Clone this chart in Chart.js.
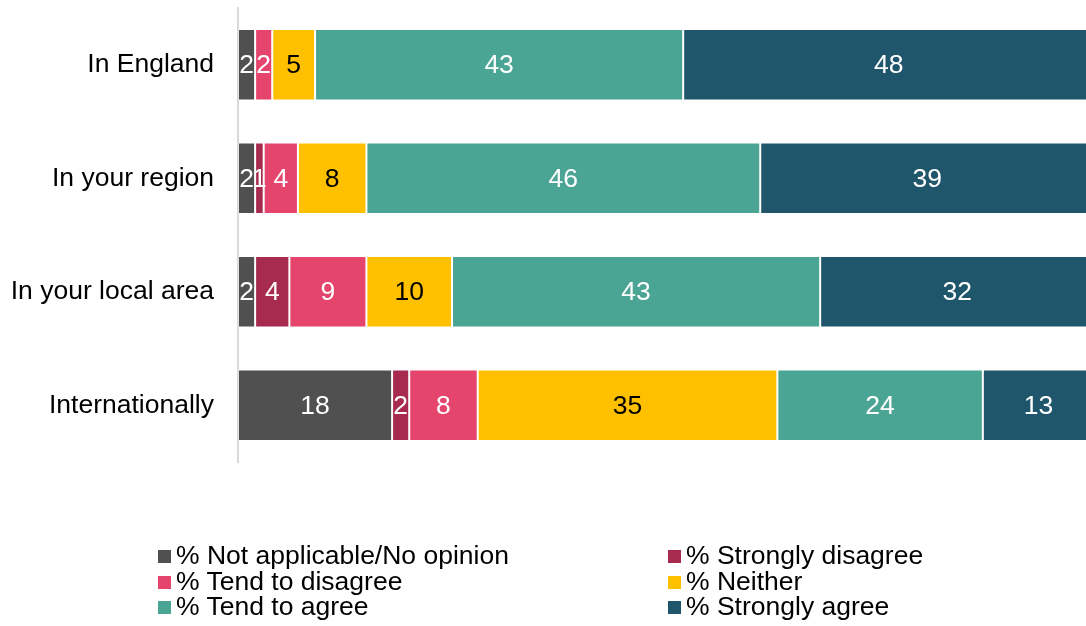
<!DOCTYPE html>
<html>
<head>
<meta charset="utf-8">
<script src="https://cdn.jsdelivr.net/npm/chart.js@4/dist/chart.umd.min.js"></script>
<style>
  html, body { margin: 0; padding: 0; background: #fff; }
  #wrap { position: relative; width: 1086px; height: 626px; }
  #legend {
    position: absolute; left: 158px; top: 543px; width: 928px;
    display: grid; grid-template-columns: 510px 418px;
    font-family: "Liberation Sans", Arial, sans-serif; font-size: 26.5px; line-height: 25.5px; color: #000;
  }
  .item { display: flex; align-items: center; white-space: nowrap; }
  .box { width: 13px; height: 13px; margin-right: 5px; margin-top: 2px; }
</style>
</head>
<body>
<div id="wrap">
  <canvas id="chart" width="1086" height="626"></canvas>
  <div id="legend"></div>
</div>
<script>
const categories = ["In England", "In your region", "In your local area", "Internationally"];
const seriesNames = ["% Not applicable/No opinion", "% Strongly disagree", "% Tend to disagree", "% Neither", "% Tend to agree", "% Strongly agree"];
const notApplicable = [2, 2, 2, 18];
const stronglyDisagree = [0, 1, 4, 2];
const tendDisagree = [2, 4, 9, 8];
const neither = [5, 8, 10, 35];
const tendAgree = [43, 46, 43, 24];
const stronglyAgree = [48, 39, 32, 13];

const colors = ["#505050", "#A62B4E", "#E5446D", "#FFC000", "#4BA594", "#1F566B"];
const labelColors = ["#fff", "#fff", "#fff", "#000", "#fff", "#fff"];
const allValues = [notApplicable, stronglyDisagree, tendDisagree, neither, tendAgree, stronglyAgree];

const FONT = '"Liberation Sans", Arial, sans-serif';

// draw the numbers inside each segment
const segmentLabels = {
  id: 'segmentLabels',
  afterDatasetsDraw(chart) {
    const ctx = chart.ctx;
    ctx.save();
    ctx.font = '26.5px ' + FONT;
    ctx.textAlign = 'center';
    ctx.textBaseline = 'middle';
    chart.data.datasets.forEach((ds, i) => {
      const meta = chart.getDatasetMeta(i);
      meta.data.forEach((bar, j) => {
        const v = ds.data[j];
        if (!v) return;
        const left = Math.min(bar.x, bar.base);
        const right = Math.max(bar.x, bar.base);
        ctx.fillStyle = labelColors[i];
        ctx.fillText(String(v), (left + right) / 2, bar.y + 1);
      });
    });
    ctx.restore();
  }
};

const chart = new Chart(document.getElementById('chart').getContext('2d'), {
  type: 'bar',
  data: {
    labels: categories,
    datasets: seriesNames.map((name, i) => ({
      label: name,
      data: allValues[i],
      backgroundColor: colors[i],
      borderColor: 'rgba(255,255,255,0.25)',
      borderWidth: 1,
      borderSkipped: false,
      categoryPercentage: 1,
      barPercentage: 0.63
    }))
  },
  options: {
    indexAxis: 'y',
    responsive: false,
    animation: false,
    layout: { padding: { top: 8, bottom: 164, right: 0 } },
    plugins: {
      legend: { display: false },
      tooltip: { enabled: false }
    },
    scales: {
      x: {
        stacked: true,
        display: false,
        min: 0,
        max: 99.05   // the original picture is cropped just short of 100
      },
      y: {
        stacked: true,
        afterFit(scale) {
          scale.width = 238;
          scale.paddingTop = 0;
          scale.paddingBottom = 0;
        },
        grid: { display: false, drawTicks: false },
        border: { display: true, color: '#d9d9d9', width: 2 },
        ticks: {
          color: '#000',
          padding: 24,
          font: { family: FONT, size: 26.5 }
        }
      }
    }
  },
  plugins: [segmentLabels]
});

// two-column legend like the original
const legend = document.getElementById('legend');
seriesNames.forEach((name, i) => {
  const item = document.createElement('div');
  item.className = 'item';
  item.innerHTML = `<span class="box" style="background:${colors[i]}"></span><span>${name}</span>`;
  legend.appendChild(item);
});
</script>
</body>
</html>
